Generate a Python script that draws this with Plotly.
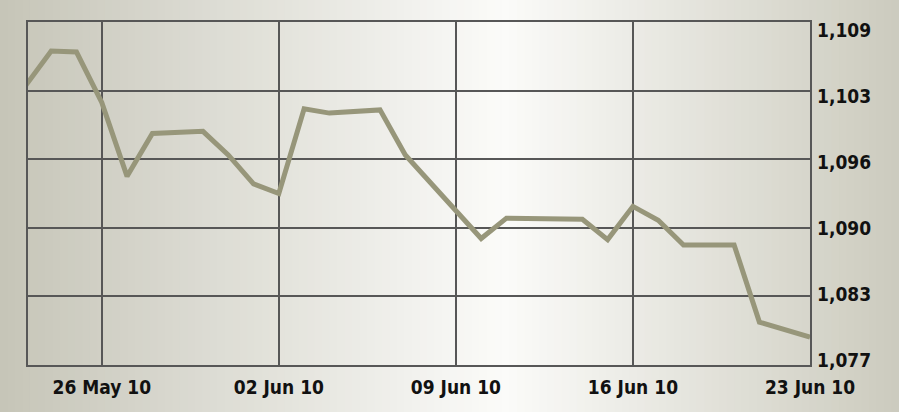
import plotly.graph_objects as go

# daily rate
dates = [
    "2010-05-23", "2010-05-24", "2010-05-25", "2010-05-26", "2010-05-27",
    "2010-05-28", "2010-05-30", "2010-05-31", "2010-06-01", "2010-06-02",
    "2010-06-03", "2010-06-04", "2010-06-06", "2010-06-07", "2010-06-10",
    "2010-06-11", "2010-06-14", "2010-06-15", "2010-06-16", "2010-06-17",
    "2010-06-18", "2010-06-20", "2010-06-21", "2010-06-23",
]
rates = [
    1.1031, 1.1063, 1.1062, 1.1015, 1.0946,
    1.0986, 1.0988, 1.0966, 1.0939, 1.0930,
    1.1009, 1.1005, 1.1008, 1.0966, 1.0888,
    1.0907, 1.0906, 1.0887, 1.0918, 1.0905,
    1.0882, 1.0882, 1.0810, 1.0796,
]
x_ticks = ["2010-05-26", "2010-06-02", "2010-06-09", "2010-06-16", "2010-06-23"]
y_ticks = [1.0770, 1.0834, 1.0898, 1.0962, 1.1026, 1.1090]

W, H = 899, 412
M = dict(l=28, r=89, t=22, b=47)
pw = W - M["l"] - M["r"]
ph = H - M["t"] - M["b"]

GRID = "#575757"
FONT = dict(family="DejaVu Sans Condensed, Liberation Sans Narrow, sans-serif",
            size=19, color="#111111", weight="bold")


def bg_color(t):
    # horizontal beige -> near white -> beige
    stops = [(0.0, (198, 197, 184)), (0.56, (251, 251, 249)), (1.0, (204, 203, 190))]
    for (t0, c0), (t1, c1) in zip(stops, stops[1:]):
        if t <= t1:
            f = (t - t0) / (t1 - t0)
            return "rgb(%d,%d,%d)" % tuple(round(a + (b - a) * f) for a, b in zip(c0, c1))
    return "rgb(%d,%d,%d)" % stops[-1][1]


shapes = []
n = 120
for i in range(n):
    px0 = W * i / n
    px1 = W * (i + 1) / n + 1
    shapes.append(dict(
        type="rect", xref="paper", yref="paper", layer="below",
        x0=(px0 - M["l"]) / pw, x1=(px1 - M["l"]) / pw,
        y0=-M["b"] / ph - 0.05, y1=1 + M["t"] / ph + 0.05,
        fillcolor=bg_color((i + 0.5) / n), line=dict(width=0),
    ))

# the value labels sit a little inside the grid: top one 8px lower, bottom one 5px higher
lo, hi = y_ticks[0], y_ticks[-1]
per_px = (hi - lo) / (ph - 8 - 5)
label_range = [lo - 5 * per_px, hi + 8 * per_px]

fig = go.Figure()
fig.add_trace(go.Scatter(
    x=dates, y=rates, mode="lines",
    line=dict(color="#97967a", width=5),
    hoverinfo="x+y",
))
fig.add_trace(go.Scatter(
    x=dates, y=rates, yaxis="y2", mode="lines",
    line=dict(width=0), hoverinfo="skip",
))

fig.update_layout(
    width=W, height=H,
    margin=M,
    paper_bgcolor="rgb(225,224,215)",
    plot_bgcolor="rgba(0,0,0,0)",
    separators=",.",
    showlegend=False,
    shapes=shapes,
    font=FONT,
    xaxis=dict(
        type="date",
        range=["2010-05-23 02:00", "2010-06-23"],
        tickvals=x_ticks, tickformat="%d %b %y",
        showgrid=True, gridcolor=GRID, gridwidth=2,
        showline=True, mirror=True, linecolor=GRID, linewidth=2,
        ticks="", zeroline=False, tickfont=FONT, automargin=False,
        ticklabelstandoff=4,
    ),
    yaxis=dict(
        range=[lo, hi],
        tickvals=y_ticks, showticklabels=False,
        showgrid=True, gridcolor=GRID, gridwidth=2,
        showline=True, mirror=True, linecolor=GRID, linewidth=2,
        ticks="", zeroline=False, automargin=False,
    ),
    yaxis2=dict(
        overlaying="y", side="right",
        range=label_range,
        tickvals=y_ticks, tickformat=".3f",
        showgrid=False, showline=False, zeroline=False,
        ticks="", tickfont=FONT, automargin=False,
        ticklabelstandoff=6,
    ),
)

fig.write_html(
    "out.html",
    config={"displayModeBar": False},
    post_script="document.body.style.margin='0';document.body.style.overflow='hidden';",
)
